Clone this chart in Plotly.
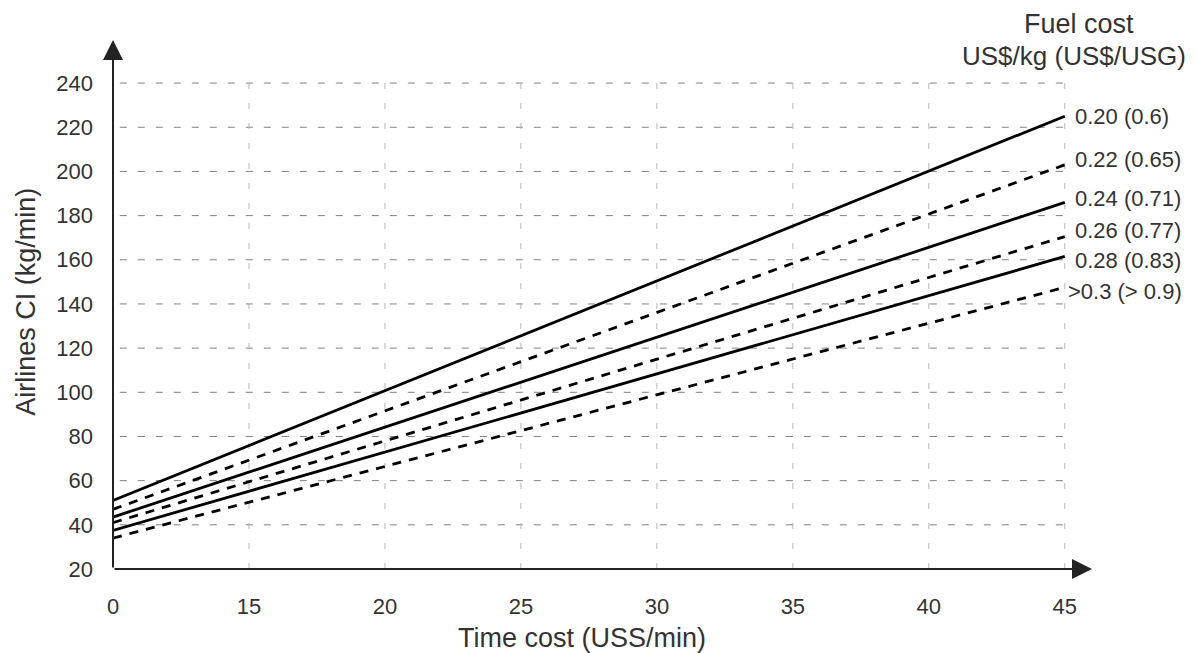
import plotly.graph_objects as go

# ---- data ----
time_cost_ticks = ["0", "15", "20", "25", "30", "35", "40", "45"]
ci_ticks = [20, 40, 60, 80, 100, 120, 140, 160, 180, 200, 220, 240]
series_x = ["0", "45"]
fuel_labels = ["0.20 (0.6)", "0.22 (0.65)", "0.24 (0.71)", "0.26 (0.77)", "0.28 (0.83)", ">0.3 (> 0.9)"]
ci_fuel_020 = [51, 225]
ci_fuel_022 = [47, 203]
ci_fuel_024 = [43.5, 186]
ci_fuel_026 = [41, 170.5]
ci_fuel_028 = [37.5, 161.5]
ci_fuel_030 = [34, 147.5]
series_values = [ci_fuel_020, ci_fuel_022, ci_fuel_024, ci_fuel_026, ci_fuel_028, ci_fuel_030]

# ---- style ----
dashes = ["solid", "9px,8px", "solid", "9px,8px", "solid", "9px,8px"]
label_yshift = [0, 5, 4, 6, -4, -4]
label_xshift = [8, 8, 8, 8, 8, 1]
FONT = "Liberation Sans, Arial, sans-serif"
TXT = "#333333"

X_MAX = 7.2
Y_MIN, Y_MAX = 20, 259.5

fig = go.Figure()
for vals, dash in zip(series_values, dashes):
    fig.add_trace(go.Scatter(
        x=series_x, y=vals, mode="lines",
        line=dict(color="black", width=2.8, dash=dash),
        hoverinfo="skip", showlegend=False,
    ))

shapes = []
# horizontal gridlines
for v in ci_ticks[1:]:
    shapes.append(dict(type="line", xref="x", yref="y", x0=0.05, x1=7, y0=v, y1=v,
                       line=dict(color="#808080", width=1, dash="7px,11px"), layer="below"))
# vertical gridlines
for i, t in enumerate(time_cost_ticks[1:], start=1):
    shapes.append(dict(type="line", xref="x", yref="y", x0=i, x1=i, y0=Y_MIN, y1=ci_ticks[-1],
                       line=dict(color="#b5b5b5", width=1, dash="6px,14px"), layer="below"))

annotations = []
# axis arrows
annotations.append(dict(x=X_MAX, y=Y_MIN, ax=0, ay=Y_MIN, xref="x", yref="y", axref="x", ayref="y",
                        text="", showarrow=True, arrowhead=2, arrowsize=2.0, arrowwidth=2, arrowcolor="#222"))
annotations.append(dict(x=0, y=Y_MAX, ax=0, ay=Y_MIN, xref="x", yref="y", axref="x", ayref="y",
                        text="", showarrow=True, arrowhead=2, arrowsize=2.0, arrowwidth=2, arrowcolor="#222"))
# line labels
for lab, vals, ys, xs in zip(fuel_labels, series_values, label_yshift, label_xshift):
    annotations.append(dict(x=7, y=vals[-1], xref="x", yref="y", text=lab, showarrow=False,
                            xanchor="left", yanchor="middle", xshift=xs, yshift=ys,
                            font=dict(family=FONT, size=22, color=TXT)))
# header
annotations.append(dict(x=0.987, y=1.03, xref="paper", yref="paper", text="Fuel cost", showarrow=False,
                        xanchor="center", yanchor="middle", font=dict(family=FONT, size=27, color=TXT)))
annotations.append(dict(x=0.982, y=0.970, xref="paper", yref="paper", text="US$/kg (US$/USG)", showarrow=False,
                        xanchor="center", yanchor="middle", font=dict(family=FONT, size=26, color=TXT)))
# axis titles
annotations.append(dict(x=0.479, y=-0.130, xref="paper", yref="paper", text="Time cost (USS/min)", showarrow=False,
                        xanchor="center", yanchor="middle", font=dict(family=FONT, size=27, color=TXT)))
annotations.append(dict(x=-0.089, y=0.505, xref="paper", yref="paper", text="Airlines CI (kg/min)", showarrow=False,
                        textangle=-90, xanchor="center", yanchor="middle", font=dict(family=FONT, size=27, color=TXT)))

# page body has an 8px default margin: figure is sized/offset to compensate
fig.update_layout(
    width=1189, height=645,
    margin=dict(l=105, r=105, t=32, b=84),
    paper_bgcolor="white", plot_bgcolor="white",
    shapes=shapes, annotations=annotations,
    xaxis=dict(type="category", categoryorder="array", categoryarray=time_cost_ticks,
               tickvals=time_cost_ticks, ticktext=time_cost_ticks,
               range=[0, X_MAX], showgrid=False, zeroline=False, showline=False,
               ticks="", ticklabelstandoff=22,
               tickfont=dict(family=FONT, size=22, color=TXT)),
    yaxis=dict(range=[Y_MIN, Y_MAX], tickvals=ci_ticks, showgrid=False, zeroline=False, showline=False,
               ticks="", ticklabelstandoff=19,
               tickfont=dict(family=FONT, size=22, color=TXT)),
)

fig.write_html("out.html")
